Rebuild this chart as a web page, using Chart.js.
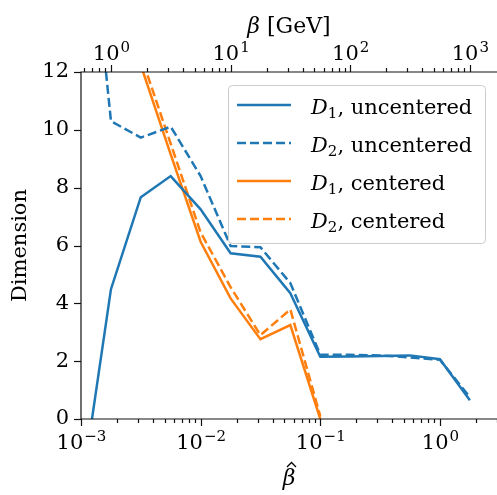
<!DOCTYPE html>
<html>
<head>
<meta charset="utf-8">
<script src="https://cdn.jsdelivr.net/npm/chart.js@4"></script>
<style>
html, body { margin: 0; padding: 0; background: #fff; }
</style>
</head>
<body>
<canvas id="dimChart" width="497" height="495"></canvas>
<script>
// beta-hat sample points, quarter decades
var betaHat = [0.001, 0.00178, 0.00316, 0.00562, 0.01, 0.0178, 0.0316, 0.0562, 0.1, 0.178, 0.316, 0.562, 1, 1.78];
var d1Uncentered = [-2.6, 4.49, 7.67, 8.4, 7.25, 5.73, 5.61, 4.35, 2.15, 2.16, 2.18, 2.2, 2.07, 0.65];
var d2Uncentered = [20.5, 10.3, 9.73, 10.11, 8.4, 5.98, 5.94, 4.7, 2.22, 2.22, 2.2, 2.13, 2.05, 0.75];
var d1Centered = [18.4, 15.3, 12.24, 9.15, 6.13, 4.17, 2.76, 3.25, 0, null, null, null, null, null];
var d2Centered = [18.7, 15.65, 12.58, 9.52, 6.45, 4.56, 2.9, 3.79, 0.1, null, null, null, null, null];
var seriesLabels = ["D_1, uncentered", "D_2, uncentered", "D_1, centered", "D_2, centered"];
var yTicks = [0, 2, 4, 6, 8, 10, 12];
var bottomDecades = [-3, -2, -1, 0];
var topDecades = [0, 1, 2, 3];
var xRange = [0.001, 3];
var betaScale = 562.3; // beta [GeV] = betaHat * betaScale

var BLUE = "#1f77b4", ORANGE = "#ff7f0e";
var serif = "'DejaVu Serif', serif";

function pts(ys) {
    return betaHat.map(function (x, i) { return { x: x, y: ys[i] }; });
}

// tick marks, x tick labels, x titles and legend
var axisDecor = {
    id: "axisDecor",
    afterDraw: function (chart) {
        var ctx = chart.ctx, a = chart.chartArea;
        var xs = chart.scales.x, xt = chart.scales.x2, ys = chart.scales.y;
        ctx.save();
        ctx.strokeStyle = "#111";
        ctx.lineWidth = 1.2;
        ctx.beginPath();
        ctx.moveTo(a.right, a.top); ctx.lineTo(a.left, a.top);
        ctx.lineTo(a.left, a.bottom); ctx.lineTo(a.right, a.bottom);
        ctx.stroke();

        function logMarks(scale, y0, dir) {
            var lo = Math.floor(Math.log10(scale.min)), hi = Math.ceil(Math.log10(scale.max));
            for (var e = lo; e <= hi; e++) {
                for (var m = 1; m < 10; m++) {
                    var v = m * Math.pow(10, e);
                    if (v < scale.min * 0.999 || v > scale.max) continue;
                    var px = Math.round(scale.getPixelForValue(v)) + 0.5;
                    var len = m === 1 ? 7 : 4;
                    ctx.beginPath(); ctx.moveTo(px, y0); ctx.lineTo(px, y0 + dir * len); ctx.stroke();
                }
            }
        }
        logMarks(xs, a.bottom, 1);
        logMarks(xt, a.top, -1);
        yTicks.forEach(function (t) {
            var py = Math.round(ys.getPixelForValue(t)) + 0.5;
            ctx.beginPath(); ctx.moveTo(a.left, py); ctx.lineTo(a.left - 7, py); ctx.stroke();
        });

        function powLabel(cx, base, e) {
            var s = e < 0 ? "\u2212" + (-e) : String(e);
            ctx.font = "21px " + serif;
            var w1 = ctx.measureText("10").width;
            ctx.font = "15px " + serif;
            var w2 = ctx.measureText(s).width;
            var x0 = cx - (w1 + w2) / 2;
            ctx.fillStyle = "#000";
            ctx.textAlign = "left";
            ctx.textBaseline = "alphabetic";
            ctx.font = "21px " + serif;
            ctx.fillText("10", x0, base);
            ctx.font = "15px " + serif;
            ctx.fillText(s, x0 + w1 + 1, base - 8);
        }
        bottomDecades.forEach(function (e) { powLabel(xs.getPixelForValue(Math.pow(10, e)), 449, e); });
        topDecades.forEach(function (e) { powLabel(xt.getPixelForValue(Math.pow(10, e)), 60, e); });

        // axis titles
        var cx = (a.left + a.right) / 2;
        ctx.textAlign = "center";
        ctx.font = "italic 22px " + serif;
        ctx.fillText("\u03b2", cx, 485);
        // hat over beta
        ctx.strokeStyle = "#000";
        ctx.lineWidth = 1.3;
        ctx.beginPath();
        ctx.moveTo(cx - 2, 467); ctx.lineTo(cx + 2.5, 462.5); ctx.lineTo(cx + 7, 467);
        ctx.stroke();

        ctx.font = "italic 22px " + serif;
        var wb = ctx.measureText("\u03b2 ").width;
        ctx.font = "22px " + serif;
        var wg = ctx.measureText("[GeV]").width;
        var tx = cx - (wb + wg) / 2;
        ctx.textAlign = "left";
        ctx.font = "italic 22px " + serif;
        ctx.fillText("\u03b2 ", tx, 33);
        ctx.font = "22px " + serif;
        ctx.fillText("[GeV]", tx + wb, 33);

        // legend
        ctx.fillStyle = "rgba(255,255,255,0.8)";
        ctx.strokeStyle = "#cccccc";
        ctx.lineWidth = 1;
        ctx.beginPath();
        ctx.roundRect(228.5, 85.5, 257, 158, 4);
        ctx.fill(); ctx.stroke();
        chart.data.datasets.forEach(function (ds, i) {
            var ry = 105 + i * 38;
            ctx.strokeStyle = ds.borderColor;
            ctx.lineWidth = ds.borderWidth;
            ctx.setLineDash(ds.borderDash || []);
            ctx.beginPath(); ctx.moveTo(237, ry); ctx.lineTo(291, ry); ctx.stroke();
            ctx.setLineDash([]);
            var m = ds.label.match(/^(\w)_(\w)(.*)$/);
            var x = 311, base = ry + 8.5;
            ctx.fillStyle = "#000";
            ctx.font = "italic 21px " + serif;
            ctx.fillText(m[1], x, base);
            x += ctx.measureText(m[1]).width;
            ctx.font = "15px " + serif;
            ctx.fillText(m[2], x, base + 4);
            x += ctx.measureText(m[2]).width;
            ctx.font = "21px " + serif;
            ctx.fillText(m[3], x, base);
        });
        ctx.restore();
    }
};

var ctx = document.getElementById("dimChart").getContext("2d");
var myChart = new Chart(ctx, {
    type: "line",
    data: {
        datasets: [{
            label: seriesLabels[0], data: pts(d1Uncentered),
            borderColor: BLUE, borderWidth: 2.5,
        }, {
            label: seriesLabels[1], data: pts(d2Uncentered),
            borderColor: BLUE, borderWidth: 2.5, borderDash: [9, 4],
        }, {
            label: seriesLabels[2], data: pts(d1Centered),
            borderColor: ORANGE, borderWidth: 2.5,
        }, {
            label: seriesLabels[3], data: pts(d2Centered),
            borderColor: ORANGE, borderWidth: 2.5, borderDash: [9, 4],
        }, ],
    },
    options: {
        responsive: false,
        animation: false,
        devicePixelRatio: 1,
        layout: { padding: 0 },
        elements: {
            point: { radius: 0 },
            line: { tension: 0, fill: false },
        },
        datasets: { line: { clip: 0, spanGaps: false } },
        plugins: {
            legend: { display: false },
            tooltip: { enabled: false },
        },
        scales: {
            x: {
                type: "logarithmic", position: "bottom",
                min: xRange[0], max: xRange[1],
                grid: { display: false }, border: { display: false },
                ticks: { display: false },
                afterFit: function (s) { s.height = 76; },
            },
            x2: {
                type: "logarithmic", position: "top",
                min: xRange[0] * betaScale, max: xRange[1] * betaScale,
                grid: { display: false }, border: { display: false },
                ticks: { display: false },
                afterFit: function (s) { s.height = 72; },
            },
            y: {
                min: 0, max: 12,
                grid: { display: false, drawTicks: false }, border: { display: false },
                ticks: {
                    stepSize: 2, padding: 12, color: "#000",
                    font: { family: serif, size: 21 },
                },
                title: {
                    display: true, text: "Dimension", color: "#000",
                    font: { family: serif, size: 21 },
                    padding: { top: 8, bottom: 0 },
                },
                afterFit: function (s) { s.width = 81; },
            },
        },
    },
    plugins: [axisDecor],
});
</script>
</body>
</html>
